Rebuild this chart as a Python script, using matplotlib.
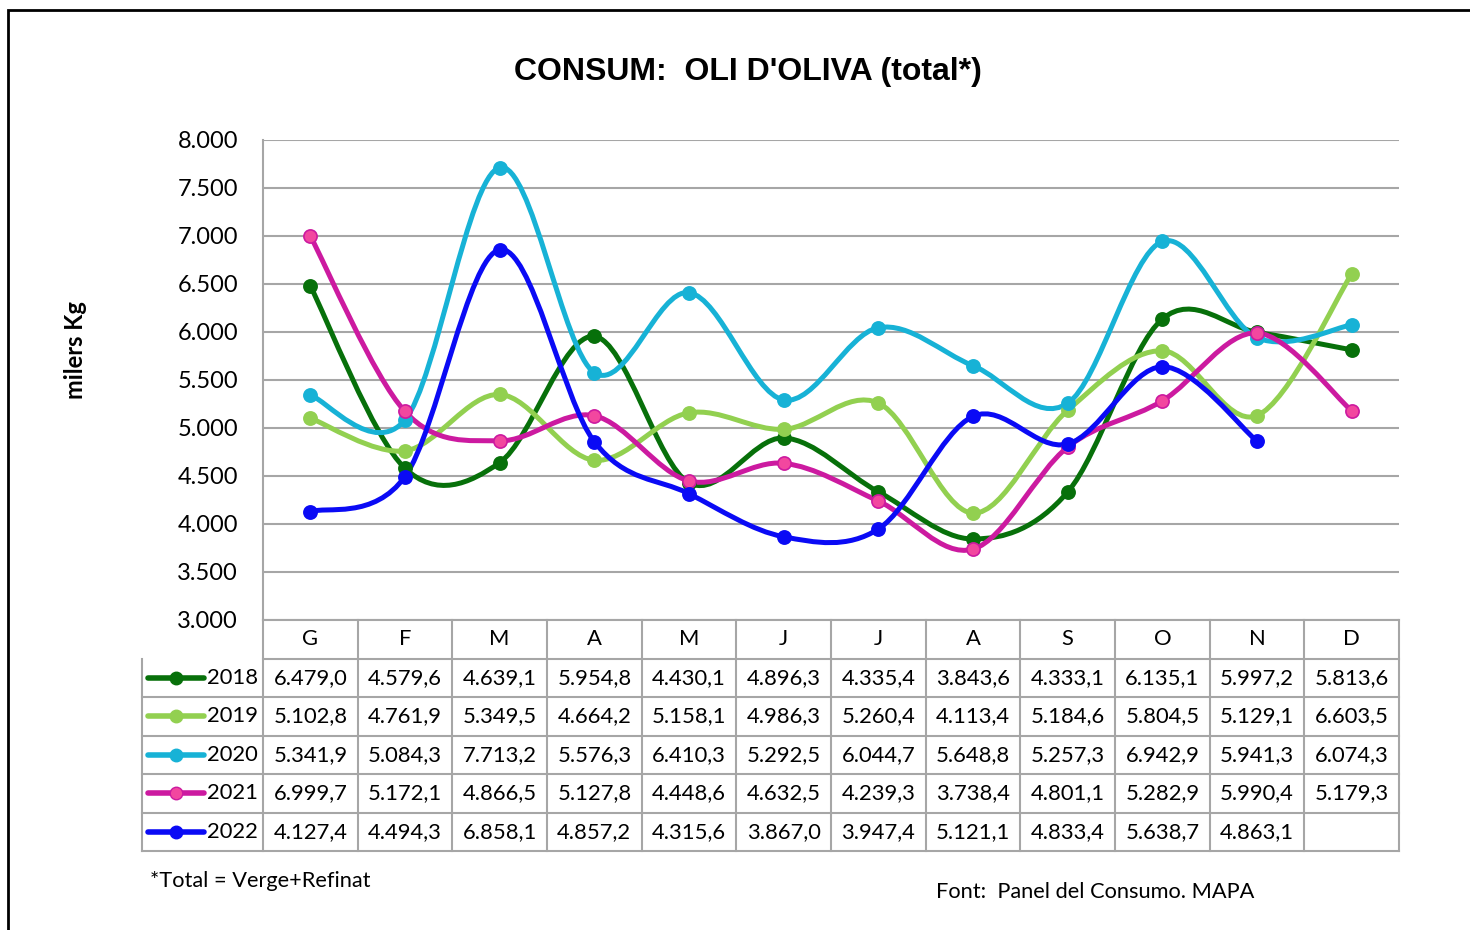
import numpy as np
import matplotlib
matplotlib.use("Agg")
import matplotlib.pyplot as plt
from matplotlib.path import Path
from matplotlib.patches import PathPatch, Rectangle
from matplotlib.lines import Line2D
import matplotlib.transforms as mtransforms

# --- data (milers Kg) ---
months = ['G', 'F', 'M', 'A', 'M', 'J', 'J', 'A', 'S', 'O', 'N', 'D']
years = ['2018', '2019', '2020', '2021', '2022']
v2018 = [6479.0, 4579.6, 4639.1, 5954.8, 4430.1, 4896.3, 4335.4, 3843.6, 4333.1, 6135.1, 5997.2, 5813.6]
v2019 = [5102.8, 4761.9, 5349.5, 4664.2, 5158.1, 4986.3, 5260.4, 4113.4, 5184.6, 5804.5, 5129.1, 6603.5]
v2020 = [5341.9, 5084.3, 7713.2, 5576.3, 6410.3, 5292.5, 6044.7, 5648.8, 5257.3, 6942.9, 5941.3, 6074.3]
v2021 = [6999.7, 5172.1, 4866.5, 5127.8, 4448.6, 4632.5, 4239.3, 3738.4, 4801.1, 5282.9, 5990.4, 5179.3]
v2022 = [4127.4, 4494.3, 6858.1, 4857.2, 4315.6, 3867.0, 3947.4, 5121.1, 4833.4, 5638.7, 4863.1, None]
series = [v2018, v2019, v2020, v2021, v2022]

line_colors = ['#07700a', '#92d050', '#17b2d6', '#cc1aa0', '#0a0af5']
face_colors = ['#07700a', '#92d050', '#17b2d6', '#f2479f', '#0a0af5']

FONT = ['Lato', 'DejaVu Sans']
GRID = '#a6a6a6'
TSIZE = 15.8


def fmt(v, dec=1):
    if v is None:
        return ''
    s = f"{v:,.{dec}f}"
    return s.replace(',', 'X').replace('.', ',').replace('X', '.')


def smooth_path(xs, ys):
    # Excel-style smoothed line: cubic bezier through the points
    pts = np.column_stack([xs, ys]).astype(float)
    n = len(pts)
    verts = [pts[0]]
    codes = [Path.MOVETO]
    for i in range(n - 1):
        p0 = pts[i - 1] if i > 0 else pts[i]
        p1 = pts[i]
        p2 = pts[i + 1]
        p3 = pts[i + 2] if i + 2 < n else pts[i + 1]
        verts += [p1 + (p2 - p0) / 6.0, p2 - (p3 - p1) / 6.0, p2]
        codes += [Path.CURVE4] * 3
    return Path(verts, codes)


W, H = 1470, 930
fig = plt.figure(figsize=(W / 100, H / 100), dpi=100)
fig.patch.set_facecolor('white')

# outer frame
fig.patches.append(Rectangle((8 / W, -0.1), 1.2, 1 - 10 / H + 0.1, transform=fig.transFigure,
                             fill=False, edgecolor='black', linewidth=2))

left, right, top, bottom = 263, 1399, 140, 620
ax = fig.add_axes([left / W, 1 - bottom / H, (right - left) / W, (bottom - top) / H])
ax.set_xlim(-0.5, 11.5)
ax.set_ylim(3000, 8000)
ax.set_yticks(np.arange(3000, 8001, 500))
ax.set_yticklabels([fmt(v, 0) for v in np.arange(3000, 8001, 500)], fontsize=17, family=FONT)
ax.set_xticks([])
ax.tick_params(axis='y', length=0, pad=18)
ax.yaxis.grid(True, color=GRID, linewidth=1.5)
ax.set_axisbelow(True)
for s in ['top', 'right']:
    ax.spines[s].set_visible(False)
for s in ['left', 'bottom']:
    ax.spines[s].set_color(GRID)
    ax.spines[s].set_linewidth(1.5)

x = np.arange(len(months))
for vals, lc, fc in zip(series, line_colors, face_colors):
    xs = [xi for xi, v in zip(x, vals) if v is not None]
    ys = [v for v in vals if v is not None]
    ax.add_patch(PathPatch(smooth_path(xs, ys), fill=False, edgecolor=lc, linewidth=3.6,
                           capstyle='round', joinstyle='round'))
    ax.plot(xs, ys, linestyle='none', marker='o', markersize=9.5,
            markerfacecolor=fc, markeredgecolor=lc, markeredgewidth=1.2, zorder=3)

ax.set_ylabel('milers Kg', fontsize=17, fontweight='bold', family=FONT, labelpad=0)
ax.yaxis.set_label_coords(-0.155, 0.5625)

# --- data table under the axes ---
trans = mtransforms.blended_transform_factory(ax.transData, ax.transAxes)
px = 1 / ((right - left) / 12)          # one pixel in data-x units
rh = 38.5 / (bottom - top)              # row height in axes units
x_left = -0.5 - (left - 142) * px
nrows = len(years) + 1

def tline(xx, yy):
    ax.add_line(Line2D(xx, yy, transform=trans, color=GRID, linewidth=1.5, clip_on=False))

for r in range(1, nrows + 1):
    tline([x_left if r > 1 else -0.5, 11.5], [-r * rh, -r * rh])
for k in range(13):
    tline([-0.5 + k, -0.5 + k], [0, -nrows * rh])
tline([x_left, x_left], [-rh, -nrows * rh])

for i, m in enumerate(months):
    ax.text(i, -0.5 * rh, m, transform=trans, ha='center', va='center',
            fontsize=TSIZE, family=FONT, clip_on=False)

for r, (yr, vals, lc, fc) in enumerate(zip(years, series, line_colors, face_colors), start=1):
    yc = -(r + 0.5) * rh
    ax.add_line(Line2D([x_left + 6 * px, x_left + 62 * px], [yc, yc], transform=trans,
                       color=lc, linewidth=4, clip_on=False, solid_capstyle='round'))
    ax.add_line(Line2D([x_left + 34 * px], [yc], transform=trans, marker='o', markersize=9,
                       markerfacecolor=fc, markeredgecolor=lc, linestyle='none', clip_on=False))
    ax.text(x_left + 65 * px, yc, yr, transform=trans, ha='left', va='center',
            fontsize=TSIZE, family=FONT, clip_on=False)
    for i, v in enumerate(vals):
        ax.text(i, yc, fmt(v), transform=trans, ha='center', va='center',
                fontsize=TSIZE, family=FONT, clip_on=False)

fig.text(748 / W, 1 - 72 / H, "CONSUM:  OLI D'OLIVA (total*)", ha='center', va='center',
         fontsize=23, fontweight='bold', family=['Liberation Sans', 'DejaVu Sans'])
fig.text(150 / W, 1 - 881 / H, '*Total = Verge+Refinat', ha='left', va='center',
         fontsize=15.7, family=FONT)
fig.text(936 / W, 1 - 892 / H, 'Font:  Panel del Consumo. MAPA', ha='left', va='center',
         fontsize=15.7, family=FONT)

fig.savefig('out.png', dpi=100)
